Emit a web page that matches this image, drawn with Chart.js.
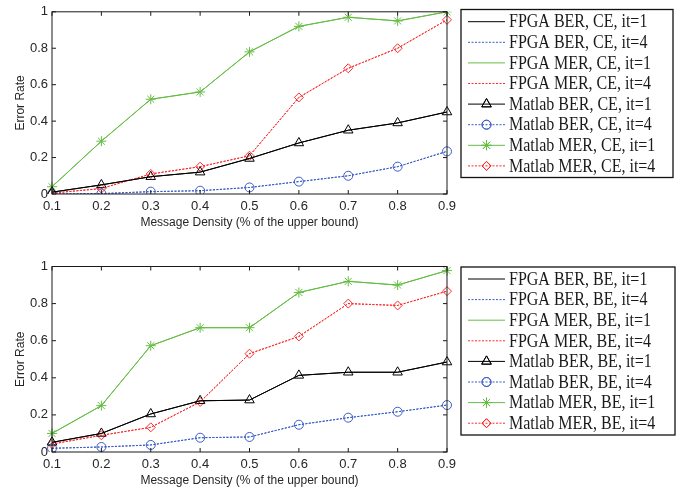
<!DOCTYPE html>
<html>
<head>
<meta charset="utf-8">
<script src="https://cdn.jsdelivr.net/npm/chart.js@4.4.1/dist/chart.umd.min.js"></script>
<style>
  body { margin: 0; background: #fff; }
  #wrap { width: 691px; height: 489px; position: relative; }
  canvas { display: block; }
</style>
</head>
<body>
<div id="wrap">
  <canvas id="top" width="691" height="245"></canvas>
  <canvas id="bottom" width="691" height="244"></canvas>
</div>
<script>
// x categories (message density)
const density = ['0.1', '0.2', '0.3', '0.4', '0.5', '0.6', '0.7', '0.8', '0.9'];
const yTicks = [0, 0.2, 0.4, 0.6, 0.8, 1];

// CE (top plot)
const ceFpgaBer1   = [0.01, 0.05, 0.095, 0.12, 0.195, 0.28, 0.35, 0.39, 0.45];
const ceFpgaBer4   = [0.0, 0.002, 0.013, 0.018, 0.036, 0.068, 0.10, 0.15, 0.234];
const ceFpgaMer1   = [0.04, 0.29, 0.52, 0.56, 0.78, 0.92, 0.97, 0.95, 1.0];
const ceFpgaMer4   = [0.005, 0.03, 0.11, 0.15, 0.21, 0.53, 0.69, 0.80, 0.956];
const ceMatlabBer1 = [0.01, 0.05, 0.095, 0.12, 0.195, 0.28, 0.35, 0.39, 0.45];
const ceMatlabBer4 = [0.0, 0.002, 0.013, 0.018, 0.036, 0.068, 0.10, 0.15, 0.234];
const ceMatlabMer1 = [0.04, 0.29, 0.52, 0.56, 0.78, 0.92, 0.97, 0.95, 1.0];
const ceMatlabMer4 = [0.005, 0.03, 0.11, 0.15, 0.21, 0.53, 0.69, 0.80, 0.956];

// BE (bottom plot)
const beFpgaBer1   = [0.052, 0.10, 0.205, 0.276, 0.28, 0.413, 0.43, 0.43, 0.485];
const beFpgaBer4   = [0.02, 0.027, 0.038, 0.077, 0.081, 0.147, 0.185, 0.217, 0.253];
const beFpgaMer1   = [0.10, 0.25, 0.573, 0.67, 0.67, 0.86, 0.92, 0.90, 0.978];
const beFpgaMer4   = [0.043, 0.09, 0.133, 0.27, 0.53, 0.623, 0.80, 0.79, 0.867];
const beMatlabBer1 = [0.052, 0.10, 0.205, 0.276, 0.28, 0.413, 0.43, 0.43, 0.485];
const beMatlabBer4 = [0.02, 0.027, 0.038, 0.077, 0.081, 0.147, 0.185, 0.217, 0.253];
const beMatlabMer1 = [0.10, 0.25, 0.573, 0.67, 0.67, 0.86, 0.92, 0.90, 0.978];
const beMatlabMer4 = [0.043, 0.09, 0.133, 0.27, 0.53, 0.623, 0.80, 0.79, 0.867];

const BLACK = '#000000', BLUE = '#3a5cc8', GREEN = '#66bd45', RED = '#ff2a2a';

function makeSets(tag, f1, f4, fm1, fm4, m1, m4, mm1, mm4){
  function ds(label, data, color, dash, pt, r){
    return {
      label: label, data: data, borderColor: color, backgroundColor: 'transparent',
      borderWidth: 1, borderDash: dash, pointStyle: pt || 'circle',
      pointRadius: r || 0, pointBorderColor: color, pointBorderWidth: 1,
      pointBackgroundColor: 'transparent', tension: 0
    };
  }
  return [
    ds('FPGA BER, ' + tag + ', it=1', f1, BLACK, []),
    ds('FPGA BER, ' + tag + ', it=4', f4, BLUE, [2, 1.5]),
    ds('FPGA MER, ' + tag + ', it=1', fm1, GREEN, []),
    ds('FPGA MER, ' + tag + ', it=4', fm4, RED, [2, 1.5]),
    ds('Matlab BER, ' + tag + ', it=1', m1, BLACK, [], 'triangle', 5.5),
    ds('Matlab BER, ' + tag + ', it=4', m4, BLUE, [2, 1.5], 'circle', 4.5),
    ds('Matlab MER, ' + tag + ', it=1', mm1, GREEN, [], 'star', 5),
    ds('Matlab MER, ' + tag + ', it=4', mm4, RED, [2, 1.5], 'rectRot', 4.5)
  ];
}

// box around plot area with inward ticks (matlab style)
const boxPlugin = {
  id: 'box',
  afterDatasetsDraw(chart){
    const c = chart.ctx, a = chart.chartArea;
    c.save();
    c.strokeStyle = '#1a1a1a';
    c.lineWidth = 1;
    c.strokeRect(a.left, a.top, a.right - a.left, a.bottom - a.top);
    c.beginPath();
    const xs = chart.scales.x, ys = chart.scales.y;
    xs.ticks.forEach(function(t, i){
      const px = xs.getPixelForTick(i);
      c.moveTo(px, a.bottom); c.lineTo(px, a.bottom - 4);
      c.moveTo(px, a.top); c.lineTo(px, a.top + 4);
    });
    ys.ticks.forEach(function(t){
      const py = ys.getPixelForValue(t.value);
      c.moveTo(a.left, py); c.lineTo(a.left + 4, py);
      c.moveTo(a.right, py); c.lineTo(a.right - 4, py);
    });
    c.stroke();
    c.restore();
  }
};

// boxed legend on the right, drawn with sample line + marker
const legendPlugin = {
  id: 'sideLegend',
  afterDraw(chart, args, opts){
    const c = chart.ctx;
    c.save();
    c.strokeStyle = '#111';
    c.lineWidth = 1.3;
    c.strokeRect(opts.x, opts.y, opts.w, opts.h);
    c.font = '16px "Liberation Serif", "Times New Roman", serif';
    c.textBaseline = 'middle';
    c.fillStyle = '#1a1a1a';
    chart.data.datasets.forEach(function(d, i){
      const y = opts.rowY + i * opts.step;
      c.save();
      c.strokeStyle = d.borderColor;
      c.lineWidth = 1;
      c.setLineDash(d.borderDash || []);
      c.beginPath();
      c.moveTo(opts.x + 7, y); c.lineTo(opts.x + 44, y);
      c.stroke();
      c.setLineDash([]);
      if (d.pointRadius > 0 && Chart.helpers && Chart.helpers.drawPoint){
        c.fillStyle = 'transparent';
        Chart.helpers.drawPoint(c, {pointStyle: d.pointStyle, radius: d.pointRadius, borderWidth: 1, rotation: 0}, opts.x + 25.5, y);
        c.stroke();
      }
      c.restore();
      // slight vertical stretch like the original figure
      c.save();
      c.translate(opts.x + 48, y + 1);
      c.scale(1, 1.12);
      c.fillText(d.label, 0, 0);
      c.restore();
    });
    c.restore();
  }
};

function makeChart(id, sets, pad, legend){
  return new Chart(document.getElementById(id), {
    type: 'line',
    data: { labels: density, datasets: sets },
    options: {
      responsive: false,
      animation: false,
      layout: { padding: pad },
      plugins: {
        legend: { display: false },
        tooltip: { enabled: false },
        sideLegend: legend
      },
      scales: {
        x: {
          offset: false,
          grid: { display: false, drawTicks: false },
          border: { display: false },
          ticks: { padding: 5, color: '#262626', font: { family: '"Liberation Sans", Arial, sans-serif', size: 13 }, maxRotation: 0, autoSkip: false },
          title: { display: true, text: 'Message Density (% of the upper bound)', color: '#262626', padding: { top: 0, bottom: 0 },
                   font: { family: '"Liberation Sans", Arial, sans-serif', size: 12 } },
          afterFit: function(s){ s.height = 36; }
        },
        y: {
          min: 0, max: 1,
          afterBuildTicks: function(s){ s.ticks = yTicks.map(function(v){ return {value: v}; }); },
          grid: { display: false, drawTicks: false },
          border: { display: false },
          ticks: { padding: 4, color: '#262626', font: { family: '"Liberation Sans", Arial, sans-serif', size: 13 },
                   callback: function(v){ return String(Math.round(v * 10) / 10); } },
          title: { display: true, text: 'Error Rate', color: '#262626', padding: { top: 0, bottom: 0 },
                   font: { family: '"Liberation Sans", Arial, sans-serif', size: 12 } },
          afterFit: function(s){ s.width = 39; }
        }
      }
    },
    plugins: [boxPlugin, legendPlugin]
  });
}

makeChart('top',
  makeSets('CE', ceFpgaBer1, ceFpgaBer4, ceFpgaMer1, ceFpgaMer4, ceMatlabBer1, ceMatlabBer4, ceMatlabMer1, ceMatlabMer4),
  { left: 13, right: 244, top: 9.5, bottom: 15 },
  { x: 461, y: 9.5, w: 212, h: 168, rowY: 21.7, step: 20.6 });

makeChart('bottom',
  makeSets('BE', beFpgaBer1, beFpgaBer4, beFpgaMer1, beFpgaMer4, beMatlabBer1, beMatlabBer4, beMatlabMer1, beMatlabMer4),
  { left: 13, right: 244, top: 21.5, bottom: 1 },
  { x: 461, y: 22, w: 214, h: 168, rowY: 34, step: 20.6 });
</script>
</body>
</html>
